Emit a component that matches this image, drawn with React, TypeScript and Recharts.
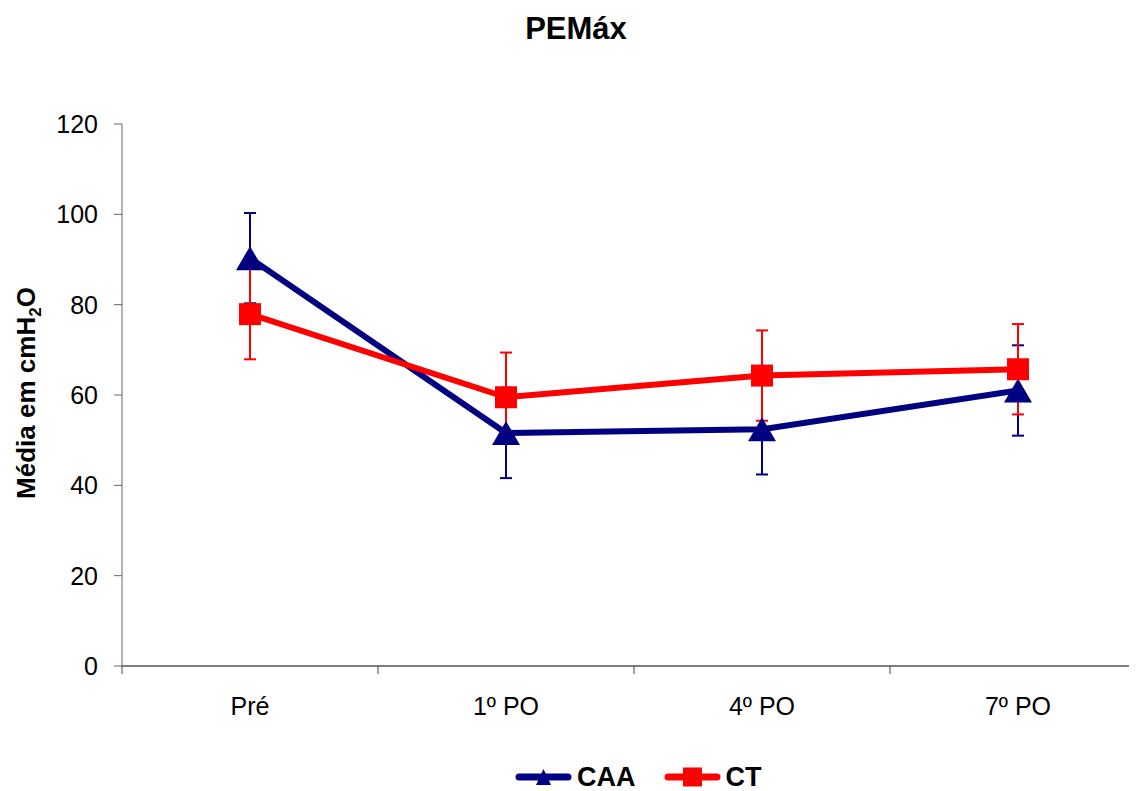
import React from "react";
import { LineChart, Line, XAxis, YAxis, ErrorBar, Legend } from "recharts";

const categories = ["Pré", "1º PO", "4º PO", "7º PO"];
const caaValues = [90.3, 51.6, 52.4, 61.0];
const caaErrors = [10, 10, 10, 10];
const ctValues = [77.9, 59.5, 64.3, 65.7];
const ctErrors = [10, 9.9, 10, 10];
const yTicks = [0, 20, 40, 60, 80, 100, 120];

const data = categories.map((c, i) => ({
  cat: c,
  caa: caaValues[i],
  caaErr: caaErrors[i],
  ct: ctValues[i],
  ctErr: ctErrors[i],
}));

const NAVY = "#000080";
const RED = "#FF0000";
const FONT = "'Liberation Sans', Arial, Helvetica, sans-serif";
const CHART_W = 1160;
const CHART_H = 783;
const MARGIN = { top: 116, right: 22, bottom: 0, left: 8 };
const Y_AXIS_W = 106;
const PLOT_W = CHART_W - MARGIN.left - MARGIN.right - Y_AXIS_W;
const BAND = PLOT_W / categories.length;

const TriangleDot = (props: any) => {
  const { cx, cy, index } = props;
  if (cx == null || cy == null) return <g key={`t-${index}`} />;
  return (
    <polygon
      key={`t-${index}`}
      points={`${cx},${cy - 12} ${cx - 14},${cy + 12} ${cx + 14},${cy + 12}`}
      fill={NAVY}
    />
  );
};

const SquareDot = (props: any) => {
  const { cx, cy, index } = props;
  if (cx == null || cy == null) return <g key={`s-${index}`} />;
  return <rect key={`s-${index}`} x={cx - 11} y={cy - 11} width={22} height={22} fill={RED} />;
};

const YLabel = (props: any) => {
  const vb = props.viewBox || { x: 0, y: 0, width: 0, height: 0 };
  const cx = vb.x + 19;
  const cy = vb.y + vb.height / 2 - 2;
  return (
    <text
      transform={`rotate(-90, ${cx}, ${cy})`}
      x={cx}
      y={cy}
      textAnchor="middle"
      fontFamily={FONT}
      fontWeight="bold"
      fontSize={26}
      fill="#000"
    >
      Média em cmH
      <tspan fontSize={17} dy={6}>2</tspan>
      <tspan dy={-6}>O</tspan>
    </text>
  );
};

const CatTick = (props: any) => {
  const { x, y, payload, index } = props;
  const last = index === categories.length - 1;
  return (
    <g>
      <line x1={x - BAND / 2} y1={y} x2={x - BAND / 2} y2={y + 8} stroke="#444" strokeWidth={1} />
      {last && <line x1={x + BAND / 2} y1={y} x2={x + BAND / 2} y2={y + 8} stroke="#444" strokeWidth={1} />}
      <text x={x} y={y + 49} textAnchor="middle" fontFamily={FONT} fontSize={25} fill="#000">
        {payload.value}
      </text>
    </g>
  );
};

const LegendContent = () => (
  <div
    style={{
      display: "flex",
      alignItems: "center",
      height: 28,
      paddingLeft: 499,
      fontFamily: FONT,
      fontWeight: "bold",
      fontSize: 27,
      lineHeight: "28px",
      color: "#000",
      whiteSpace: "nowrap",
    }}
  >
    <svg width={57} height={28} style={{ display: "block" }}>
      <line x1={4} y1={14} x2={53} y2={14} stroke={NAVY} strokeWidth={7} strokeLinecap="round" />
      <polygon points="28.5,6 21,22 36,22" fill={NAVY} />
    </svg>
    <span style={{ marginLeft: 5 }}>CAA</span>
    <svg width={57} height={28} style={{ display: "block", marginLeft: 28 }}>
      <line x1={4} y1={14} x2={53} y2={14} stroke={RED} strokeWidth={7} strokeLinecap="round" />
      <rect x={19} y={4.5} width={19} height={19} fill={RED} />
    </svg>
    <span style={{ marginLeft: 5 }}>CT</span>
  </div>
);

export default function App() {
  return (
    <div style={{ position: "relative", width: 1129, height: CHART_H, overflow: "hidden", background: "#fff" }}>
      <div
        style={{
          position: "absolute",
          left: 0,
          top: 5,
          width: 1136,
          textAlign: "center",
          fontFamily: FONT,
          fontWeight: "bold",
          fontSize: 31,
          lineHeight: "31px",
          color: "#000",
          zIndex: 2,
        }}
      >
        PEMáx
      </div>
      <LineChart width={CHART_W} height={CHART_H} data={data} margin={MARGIN}>
        <XAxis
          dataKey="cat"
          type="category"
          scale="band"
          interval={0}
          height={97}
          axisLine={{ stroke: "#000", strokeWidth: 1 }}
          tickLine={false}
          tickSize={0}
          tickMargin={0}
          tick={<CatTick />}
        />
        <YAxis
          type="number"
          domain={[0, 120]}
          ticks={yTicks}
          interval={0}
          width={Y_AXIS_W}
          tickSize={8}
          tickMargin={16}
          axisLine={{ stroke: "#666", strokeWidth: 1 }}
          tickLine={{ stroke: "#666", strokeWidth: 1 }}
          tick={{ fontSize: 25, fill: "#000", fontFamily: FONT }}
          label={<YLabel />}
        />
        <Legend verticalAlign="bottom" align="left" content={<LegendContent />} />
        <Line
          type="linear"
          dataKey="caa"
          stroke={NAVY}
          strokeWidth={6}
          strokeLinejoin="round"
          dot={TriangleDot}
          activeDot={false}
          isAnimationActive={false}
        >
          <ErrorBar dataKey="caaErr" direction="y" width={6} strokeWidth={2} stroke={NAVY} />
        </Line>
        <Line
          type="linear"
          dataKey="ct"
          stroke={RED}
          strokeWidth={6}
          strokeLinejoin="round"
          dot={SquareDot}
          activeDot={false}
          isAnimationActive={false}
        >
          <ErrorBar dataKey="ctErr" direction="y" width={6} strokeWidth={2} stroke={RED} />
        </Line>
      </LineChart>
    </div>
  );
}
